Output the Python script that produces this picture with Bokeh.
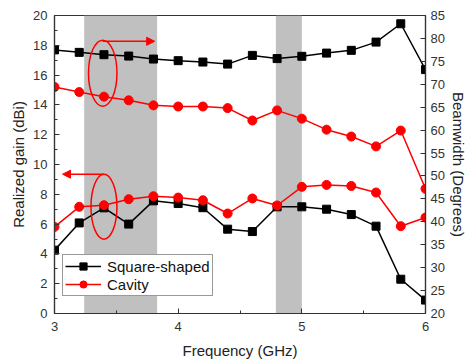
from bokeh.plotting import figure
from bokeh.models import (Range1d, LinearAxis, FixedTicker, BoxAnnotation, Arrow,
                          NormalHead, Legend, LegendItem, ColumnDataSource)
from bokeh.embed import file_html
from bokeh.resources import INLINE

freq = [3.0, 3.2, 3.4, 3.6, 3.8, 4.0, 4.2, 4.4, 4.6, 4.8, 5.0, 5.2, 5.4, 5.6, 5.8, 6.0]
square_gain = [4.25, 6.08, 7.09, 6.0, 7.56, 7.38, 7.1, 5.66, 5.5, 7.16, 7.16, 7.0, 6.64, 5.86, 2.3, 0.9]
cavity_gain = [5.81, 7.16, 7.27, 7.67, 7.87, 7.78, 7.6, 6.71, 7.72, 7.25, 8.5, 8.63, 8.56, 8.12, 5.86, 6.44]
square_bw = [77.5, 76.96, 76.45, 76.15, 75.5, 75.15, 74.85, 74.4, 76.3, 75.6, 76.1, 76.8, 77.4, 79.2, 83.2, 73.2]
cavity_bw = [69.4, 68.3, 67.3, 66.5, 65.4, 65.15, 65.15, 64.8, 62.1, 64.3, 62.5, 60.1, 58.6, 56.45, 59.9, 47.2]
bands = [(3.24, 3.83), (4.79, 5.0)]
gain_ticks = [0, 2, 4, 6, 8, 10, 12, 14, 16, 18, 20]
gain_minor = [1, 3, 5, 7, 9, 11, 13, 15, 17, 19]
bw_ticks = [20, 25, 30, 35, 40, 45, 50, 55, 60, 65, 70, 75, 80, 85]
freq_ticks = [3, 4, 5, 6]
freq_minor = [3.5, 4.5, 5.5]
labels = ["Square-shaped", "Cavity"]

FONT = "Liberation Sans"
AX = "#333333"

p = figure(width=469, height=364, output_backend="svg", toolbar_location=None,
           x_range=Range1d(3, 6), y_range=Range1d(0, 20),
           min_border_left=54, min_border_right=44, min_border_top=15, min_border_bottom=51,
           x_axis_location=None, y_axis_location=None)
p.extra_y_ranges = {"bw": Range1d(20, 85)}
p.xgrid.visible = False
p.ygrid.visible = False
p.outline_line_color = AX
p.outline_line_width = 1.2
p.background_fill_color = "white"

def style(ax):
    ax.axis_line_color = AX
    ax.axis_line_width = 1.2
    ax.major_tick_in = 5
    ax.major_tick_out = 0
    ax.minor_tick_in = 3
    ax.minor_tick_out = 0
    ax.major_tick_line_color = AX
    ax.minor_tick_line_color = AX
    ax.major_label_text_font = FONT
    ax.major_label_text_font_size = "13px"
    ax.major_label_text_color = "#333333"
    ax.axis_label_text_font = FONT
    ax.axis_label_text_font_size = "15px"
    ax.axis_label_text_font_style = "normal"
    ax.axis_label_text_color = "#222222"

xa = LinearAxis(ticker=FixedTicker(ticks=freq_ticks, minor_ticks=freq_minor), axis_label="Frequency (GHz)")
style(xa)
xa.major_label_standoff = 8
xa.axis_label_standoff = 8
p.add_layout(xa, "below")

ya = LinearAxis(ticker=FixedTicker(ticks=gain_ticks, minor_ticks=gain_minor), axis_label="Realized gain (dBi)")
style(ya)
ya.major_label_standoff = 7
ya.axis_label_standoff = 3
p.add_layout(ya, "left")

ra = LinearAxis(y_range_name="bw", ticker=FixedTicker(ticks=bw_ticks), axis_label="Beamwidth (Degrees)")
style(ra)
ra.major_label_standoff = 5
ra.axis_label_standoff = 2
p.add_layout(ra, "right")

for l, r in bands:
    p.add_layout(BoxAnnotation(left=l, right=r, fill_color="#c0c0c0", fill_alpha=1.0,
                               line_color=None, level="underlay"))

src = ColumnDataSource(dict(f=freq, sg=square_gain, cg=cavity_gain, sb=square_bw, cb=cavity_bw))

BLACK = "#000000"
RED = "#ff0000"
l1 = p.line("f", "sg", source=src, line_color=BLACK, line_width=1.5)
m1 = p.scatter("f", "sg", source=src, marker="square", size=8, fill_color=BLACK, line_color=BLACK)
l2 = p.line("f", "cg", source=src, line_color=RED, line_width=1.5)
m2 = p.scatter("f", "cg", source=src, marker="circle", size=9, fill_color=RED, line_color=RED)
p.line("f", "sb", source=src, line_color=BLACK, line_width=1.5, y_range_name="bw")
p.scatter("f", "sb", source=src, marker="square", size=8, fill_color=BLACK, line_color=BLACK, y_range_name="bw")
p.line("f", "cb", source=src, line_color=RED, line_width=1.5, y_range_name="bw")
p.scatter("f", "cb", source=src, marker="circle", size=9, fill_color=RED, line_color=RED, y_range_name="bw")

# annotation ellipses and arrows
p.ellipse(x=[3.39, 3.40], y=[16.13, 7.17], width=[0.23, 0.21], height=[4.43, 4.36],
          fill_color=None, line_color=RED, line_width=1.5)
p.add_layout(Arrow(x_start=3.39, y_start=18.27, x_end=3.81, y_end=18.27, line_color=RED, line_width=1.5,
                   end=NormalHead(size=8, fill_color=RED, line_color=RED)))
p.add_layout(Arrow(x_start=3.40, y_start=9.35, x_end=3.065, y_end=9.35, line_color=RED, line_width=1.5,
                   end=NormalHead(size=8, fill_color=RED, line_color=RED)))

legend = Legend(items=[LegendItem(label=labels[0], renderers=[l1, m1]),
                       LegendItem(label=labels[1], renderers=[l2, m2])],
                location=(8, 17))
legend.label_text_font = FONT
legend.label_text_font_size = "15px"
legend.label_text_color = "#111111"
legend.border_line_color = AX
legend.border_line_width = 1
legend.background_fill_alpha = 1.0
legend.glyph_width = 36
legend.glyph_height = 18
legend.label_height = 18
legend.spacing = 0
legend.padding = 2
legend.margin = 0
legend.label_standoff = 6
p.add_layout(legend, "center")

open("out.html", "w").write(file_html(p, INLINE))
